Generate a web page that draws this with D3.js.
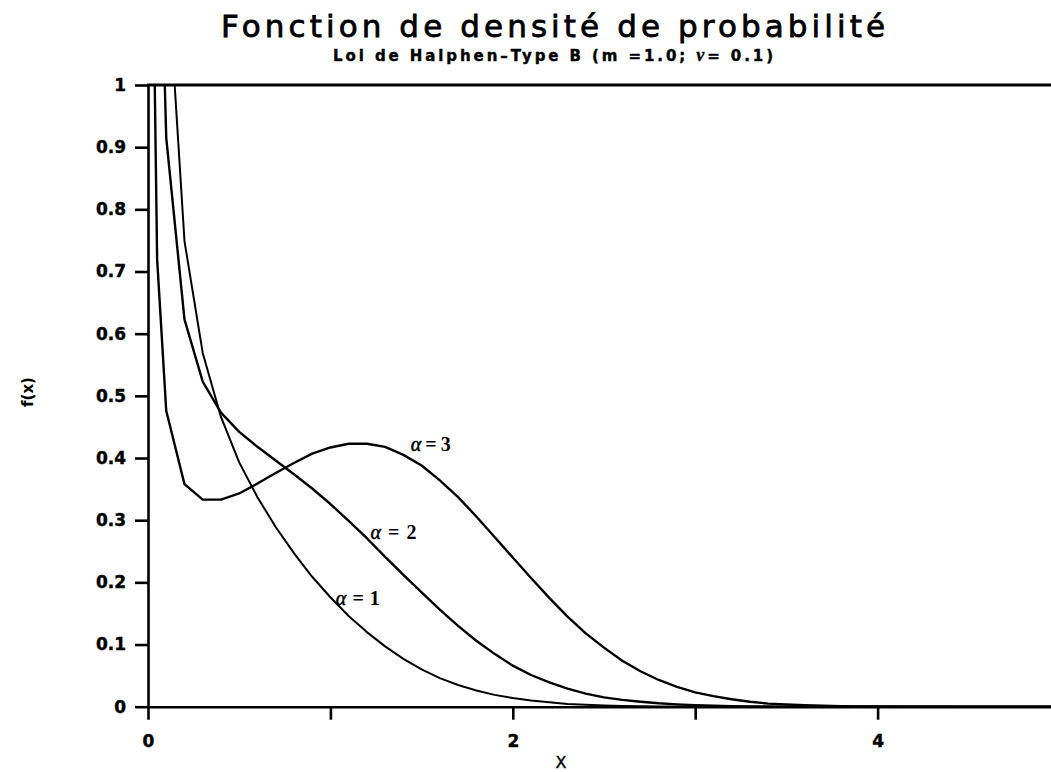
<!DOCTYPE html>
<html>
<head>
<meta charset="utf-8">
<script src="https://cdn.jsdelivr.net/npm/d3@7/dist/d3.min.js"></script>
<style>
  html, body { margin: 0; padding: 0; background: #fff; }
  svg { display: block; }
</style>
</head>
<body>
<svg id="chart" width="1051" height="772"></svg>
<script>
// Sample abscissae shared by the three density curves
const xs = [0.02, 0.05, 0.1, 0.2, 0.3, 0.4, 0.5, 0.6, 0.7, 0.8, 0.9, 1.0,
            1.1, 1.2, 1.3, 1.4, 1.5, 1.6, 1.7, 1.8, 1.9, 2.0,
            2.1, 2.2, 2.3, 2.4, 2.5, 2.6, 2.7, 2.8, 2.9, 3.0,
            3.1, 3.2, 3.3, 3.4, 3.5, 3.6, 3.7, 3.8, 3.9, 4.0,
            4.5, 5.0];

// f(x) for alpha = 1
const alpha1 = [4.10, 2.03, 1.215, 0.749, 0.569, 0.466, 0.393, 0.337, 0.289, 0.247, 0.209, 0.176,
                0.146, 0.120, 0.097, 0.077, 0.060, 0.046, 0.035, 0.026, 0.019, 0.014,
                0.010, 0.007, 0.0045, 0.003, 0.002, 0.0013, 0.0008, 0.0005, 0.0003, 0.0002,
                0.0001, 0, 0, 0, 0, 0, 0, 0, 0, 0,
                0, 0];

// f(x) for alpha = 2
const alpha2 = [2.85, 1.453, 0.915, 0.623, 0.523, 0.473, 0.442, 0.418, 0.396, 0.374, 0.351, 0.326,
                0.299, 0.271, 0.241, 0.212, 0.184, 0.156, 0.130, 0.106, 0.085, 0.066,
                0.051, 0.039, 0.029, 0.021, 0.015, 0.011, 0.008, 0.0055, 0.0037, 0.0025,
                0.0016, 0.001, 0.0006, 0.0004, 0.0002, 0.0001, 0, 0, 0, 0,
                0, 0];

// f(x) for alpha = 3
const alpha3 = [1.37, 0.720, 0.476, 0.358, 0.333, 0.333, 0.343, 0.359, 0.376, 0.392, 0.407, 0.417,
                0.423, 0.423, 0.418, 0.405, 0.388, 0.364, 0.337, 0.306, 0.273, 0.240,
                0.207, 0.175, 0.145, 0.118, 0.095, 0.074, 0.057, 0.043, 0.032, 0.023,
                0.017, 0.012, 0.008, 0.005, 0.0036, 0.0023, 0.0015, 0.0009, 0.0005, 0.0003,
                0, 0];

const seriesNames = ["1", "2", "3"];

const yTickValues = [0, 0.1, 0.2, 0.3, 0.4, 0.5, 0.6, 0.7, 0.8, 0.9, 1];
const yTickLabels = ["0", "0.1", "0.2", "0.3", "0.4", "0.5", "0.6", "0.7", "0.8", "0.9", "1"];
const xTickValues = [0, 1, 2, 3, 4, 5];
const xTickLabels = ["0", "", "2", "", "4", ""];

const titleText = "Fonction de densité de probabilité";
const xLabel = "X";
const yLabel = "f(x)";

const W = 1051, H = 772;
const svg = d3.select("#chart");
svg.append("rect").attr("width", W).attr("height", H).attr("fill", "#fff");

const x = d3.scaleLinear().domain([0, 5]).range([148, 1060]);
const y = d3.scaleLinear().domain([0, 1]).range([706.7, 85]);

const tickFont = "'DejaVu Sans', sans-serif";

// Clip for the curves
svg.append("defs").append("clipPath").attr("id", "plotClip")
  .append("rect")
  .attr("x", x(0)).attr("y", y(1))
  .attr("width", W - x(0)).attr("height", y(0) - y(1));

// Title & subtitle
svg.append("text")
  .attr("x", 553).attr("y", 37)
  .attr("text-anchor", "middle")
  .attr("font-family", tickFont)
  .attr("font-size", 31)
  .attr("textLength", 664).attr("lengthAdjust", "spacing")
  .attr("fill", "#000")
  .attr("stroke", "#000").attr("stroke-width", 0.8)
  .text(titleText);

const sub = svg.append("text")
  .attr("x", 553).attr("y", 61)
  .attr("text-anchor", "middle")
  .attr("font-family", tickFont)
  .attr("font-weight", "bold")
  .attr("font-size", 15)
  .attr("textLength", 440).attr("lengthAdjust", "spacing")
  .attr("fill", "#000")
  .attr("stroke", "#000").attr("stroke-width", 0.4);
sub.append("tspan").text("Loi de Halphen\u2013Type B (m =1.0; ");
sub.append("tspan").attr("font-family", "'Liberation Serif', serif").attr("font-style", "italic").attr("font-size", 18).text("ν");
sub.append("tspan").text("= 0.1)");

// Y axis
const yAxis = svg.append("g")
  .attr("transform", `translate(${x(0)},0)`)
  .call(d3.axisLeft(y).tickValues(yTickValues)
    .tickFormat((d, i) => yTickLabels[i])
    .tickSize(13).tickSizeOuter(0).tickPadding(9));

// X axis
const xAxis = svg.append("g")
  .attr("transform", `translate(0,${y(0)})`)
  .call(d3.axisBottom(x).tickValues(xTickValues)
    .tickFormat((d, i) => xTickLabels[i])
    .tickSize(13).tickSizeOuter(0).tickPadding(15));

[yAxis, xAxis].forEach(g => {
  g.select(".domain").attr("stroke", "#000").attr("stroke-width", 2.6);
  g.selectAll(".tick line").attr("stroke", "#000").attr("stroke-width", 2.6);
  g.selectAll(".tick text")
    .attr("font-family", tickFont)
    .attr("font-weight", "bold")
    .attr("font-size", 17)
    .attr("fill", "#000")
    .attr("stroke", "#000").attr("stroke-width", 0.4);
});

// Top frame line
svg.append("line")
  .attr("x1", x(0) - 1).attr("x2", W)
  .attr("y1", y(1)).attr("y2", y(1))
  .attr("stroke", "#000").attr("stroke-width", 2.8);

// Axis titles
svg.append("text")
  .attr("x", 561).attr("y", 768)
  .attr("text-anchor", "middle")
  .attr("font-family", tickFont)
  .attr("font-size", 16)
  .attr("fill", "#000")
  .attr("stroke", "#000").attr("stroke-width", 0.4)
  .text(xLabel);

svg.append("text")
  .attr("transform", "translate(33,392) rotate(-90)")
  .attr("text-anchor", "middle")
  .attr("font-family", tickFont)
  .attr("font-weight", "bold")
  .attr("font-size", 15)
  .attr("fill", "#000")
  .text(yLabel);

// Curves
const series = [alpha1, alpha2, alpha3].map((vals, i) => ({
  name: seriesNames[i],
  points: xs.map((xv, j) => [xv, vals[j]])
}));
const line = d3.line().x(d => x(d[0])).y(d => y(d[1]));
const widths = [2.0, 2.4, 2.4];

svg.append("g").attr("clip-path", "url(#plotClip)")
  .selectAll("path").data(series).join("path")
  .attr("d", d => line(d.points))
  .attr("fill", "none")
  .attr("stroke", "#000")
  .attr("stroke-width", (d, i) => widths[i])
  .attr("stroke-linejoin", "round");

// Curve labels, anchored in data units
const labelAnchors = [
  { x: 1.03, y: 0.163, len: 44 },
  { x: 1.22, y: 0.27, len: 46 },
  { x: 1.44, y: 0.412, len: 40 }
];
series.forEach((s, i) => {
  const a = labelAnchors[i];
  const t = svg.append("text")
    .attr("x", x(a.x)).attr("y", y(a.y))
    .attr("font-family", "'Liberation Serif', serif")
    .attr("font-size", 20)
    .attr("font-weight", "bold")
    .attr("textLength", a.len).attr("lengthAdjust", "spacing")
    .attr("fill", "#000");
  t.append("tspan").attr("font-style", "italic").attr("font-weight", "normal")
    .attr("stroke", "#000").attr("stroke-width", 0.5).text("α");
  t.append("tspan").text("=" + s.name);
});
</script>
</body>
</html>
